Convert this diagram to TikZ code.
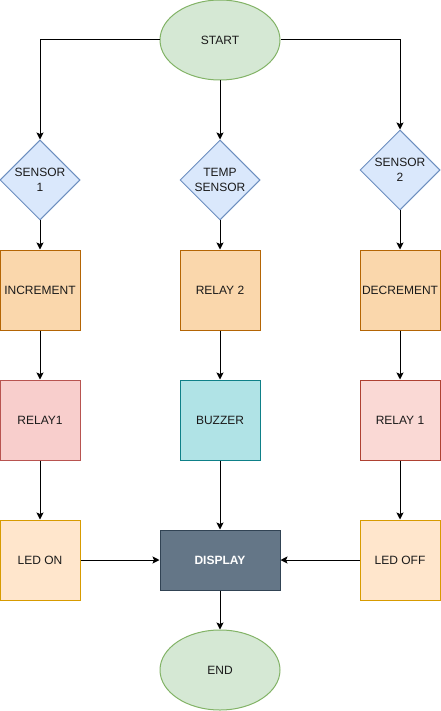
\documentclass[tikz,border=0pt]{standalone}
\usepackage{fontspec}
\setmainfont{Liberation Sans}
\usetikzlibrary{shapes.geometric,arrows.meta}
\definecolor{gfill}{HTML}{D5E8D4}\definecolor{gdraw}{HTML}{82B366}
\definecolor{bfill}{HTML}{DAE8FC}\definecolor{bdraw}{HTML}{6C8EBF}
\definecolor{ofill}{HTML}{FAD7AC}\definecolor{odraw}{HTML}{B46504}
\definecolor{rfill}{HTML}{F8CECC}\definecolor{rdraw}{HTML}{B85450}
\definecolor{r2fill}{HTML}{FAD9D5}\definecolor{r2draw}{HTML}{AE4132}
\definecolor{tfill}{HTML}{B0E3E6}\definecolor{tdraw}{HTML}{0E8088}
\definecolor{dfill}{HTML}{647687}\definecolor{ddraw}{HTML}{314354}
\definecolor{lfill}{HTML}{FFE6CC}\definecolor{ldraw}{HTML}{D79B00}
\definecolor{txt}{HTML}{1A1A1A}
\tikzset{
  base/.style={line width=1pt, inner sep=0pt, font=\fontsize{12}{15}\selectfont, text=txt, align=center},
  term/.style={base, ellipse, fill=gfill, draw=gdraw, minimum width=120pt, minimum height=80pt},
  dia/.style={base, diamond, fill=bfill, draw=bdraw, minimum width=80pt, minimum height=80pt},
  orangebox/.style={base, rectangle, fill=ofill, draw=odraw, minimum width=80pt, minimum height=80pt},
  redbox/.style={base, rectangle, fill=rfill, draw=rdraw, minimum width=80pt, minimum height=80pt},
  redboxb/.style={base, rectangle, fill=r2fill, draw=r2draw, minimum width=80pt, minimum height=80pt},
  tealbox/.style={base, rectangle, fill=tfill, draw=tdraw, minimum width=80pt, minimum height=80pt},
  ledbox/.style={base, rectangle, fill=lfill, draw=ldraw, minimum width=80pt, minimum height=80pt},
  dispbox/.style={base, rectangle, fill=dfill, draw=ddraw, minimum width=120pt, minimum height=60pt, text=white, font=\fontsize{12}{15}\selectfont\bfseries},
  lbl/.style={base, inner sep=0pt},
  conn/.style={line width=1pt, -{Stealth[length=7pt,width=7pt,inset=1.5pt]}}
}
\begin{document}
\begin{tikzpicture}[x=1pt,y=-1pt]
\useasboundingbox (0,0) rectangle (441,711);
\node[term] (start) at (220,40) {START};
\node[dia] (s1) at (40,180) {};
\node[lbl] (s1t) at (40,180) {SENSOR\\1};
\node[dia] (ts) at (220,180) {};
\node[lbl] (tst) at (220,180) {TEMP\\SENSOR};
\node[dia] (s2) at (400,170) {};
\node[lbl] (s2t) at (400,170) {SENSOR\\2};
\node[orangebox] (inc) at (40,290) {INCREMENT};
\node[orangebox] (r2) at (220,290) {RELAY 2};
\node[orangebox] (dec) at (400,290) {DECREMENT};
\node[redbox] (r1a) at (40,420) {RELAY1};
\node[tealbox] (buz) at (220,420) {BUZZER};
\node[redboxb] (r1b) at (400,420) {RELAY 1};
\node[ledbox] (lon) at (40,560) {LED ON};
\node[dispbox] (disp) at (220,560) {DISPLAY};
\node[ledbox] (loff) at (400,560) {LED OFF};
\node[term] (end) at (220,670) {END};
\draw[conn] (start.west) -| (s1.north);
\draw[conn] (start.south) -- (ts.north);
\draw[conn] (start.east) -| (s2.north);
\draw[conn] (s1.south) -- (inc.north);
\draw[conn] (ts.south) -- (r2.north);
\draw[conn] (s2.south) -- (dec.north);
\draw[conn] (inc.south) -- (r1a.north);
\draw[conn] (r2.south) -- (buz.north);
\draw[conn] (dec.south) -- (r1b.north);
\draw[conn] (r1a.south) -- (lon.north);
\draw[conn] (buz.south) -- (disp.north);
\draw[conn] (r1b.south) -- (loff.north);
\draw[conn] (lon.east) -- (disp.west);
\draw[conn] (loff.west) -- (disp.east);
\draw[conn] (disp.south) -- (end.north);
\end{tikzpicture}
\end{document}
